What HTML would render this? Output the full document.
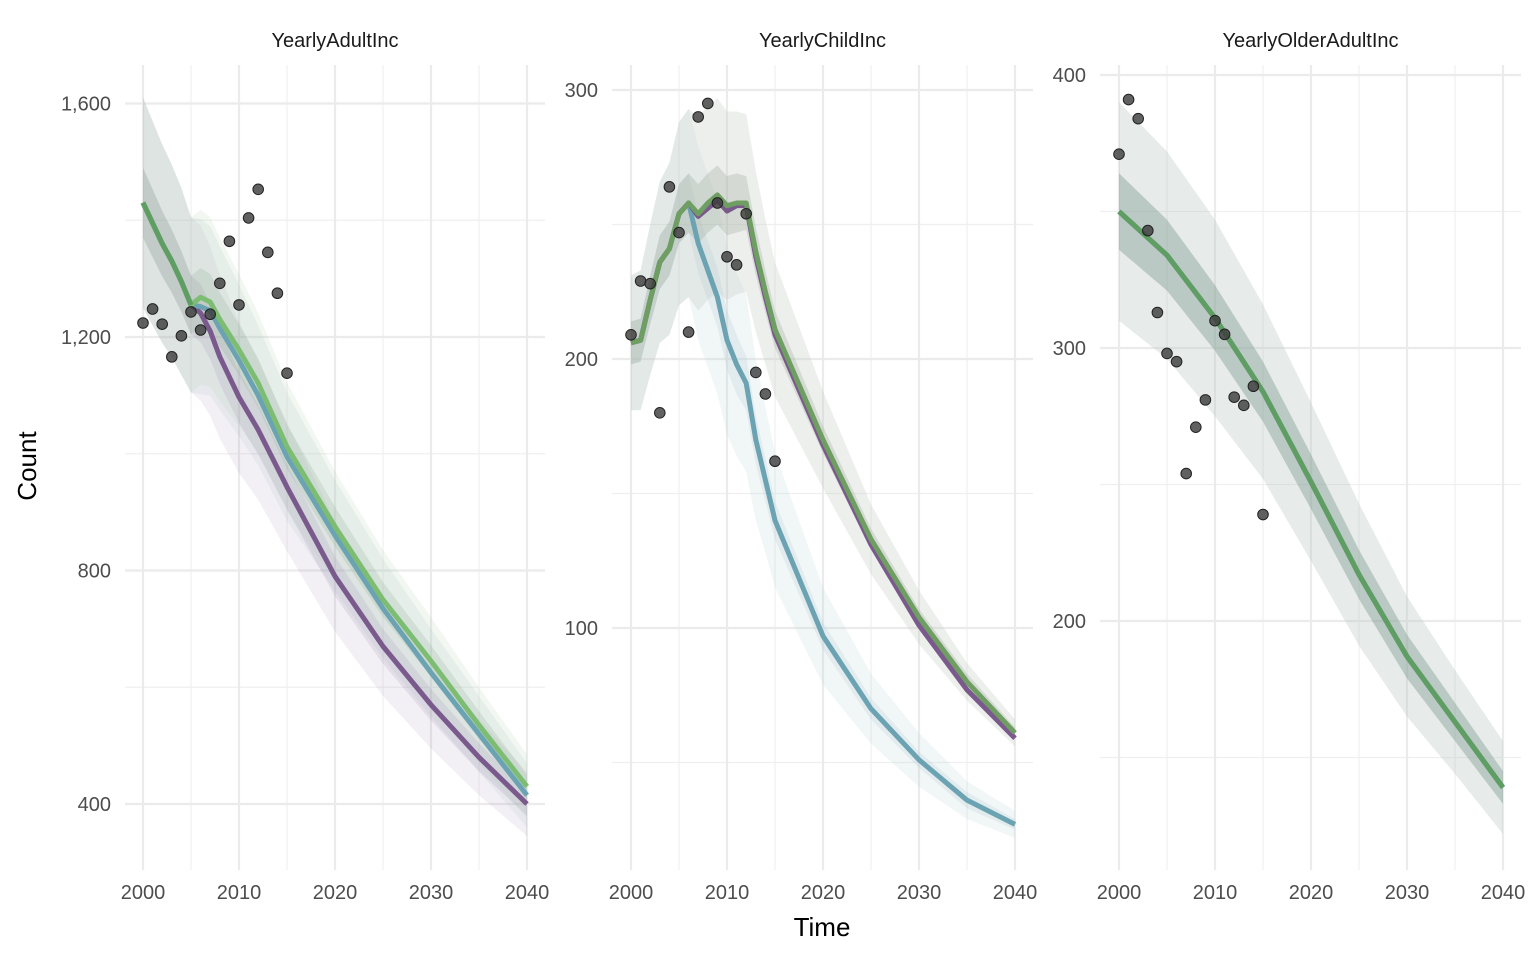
<!DOCTYPE html>
<html><head><meta charset="utf-8"><style>
body{margin:0;background:#fff;}
svg{display:block;font-family:"Liberation Sans",sans-serif;}
</style></head><body>
<svg id="chart" width="1536" height="960" viewBox="0 0 1536 960"></svg>
<script>
// ---------- data ----------
const panelTitles = ["YearlyAdultInc","YearlyChildInc","YearlyOlderAdultInc"];
const obsYears = [2000,2001,2002,2003,2004,2005,2006,2007,2008,2009,2010,2011,2012,2013,2014,2015];
const obsAdult = [1224,1248,1222,1166,1202,1243,1212,1239,1292,1364,1255,1404,1453,1345,1275,1138];
const obsChild = [209,229,228,180,264,247,210,290,295,258,238,235,254,195,187,162];
const obsOlder = [371,391,384,343,313,298,295,254,271,281,310,305,282,279,286,239];

const adultYears = [2000,2001,2002,2003,2004,2005,2006,2007,2008,2010,2012,2015,2020,2025,2030,2035,2040];
const adultGreen = [1430,1395,1360,1330,1295,1255,1268,1260,1230,1178,1121,1012,875,750,645,535,430];
const adultBlue = [1430,1395,1360,1330,1295,1255,1252,1245,1215,1160,1100,995,860,735,625,520,415];
const adultPurple = [1430,1395,1360,1330,1295,1255,1241,1210,1166,1097,1041,943,790,670,570,480,400];
const adultOuter = [180,175,170,165,160,150,150,145,140,130,120,110,95,85,75,65,55];
const adultInner = [60,58,56,54,52,50,50,48,46,44,42,38,34,30,27,24,20];

const childYears = [2000,2001,2002,2003,2004,2005,2006,2007,2008,2009,2010,2011,2012,2013,2014,2015,2020,2025,2030,2035,2040];
const childGreen = [206,207,222,236,241,254,258,254,258,261,257,258,258,240,225,211,170,133,104,80,61];
const childPurple = [206,207,222,236,241,254,258,253,256,259,255,257,257,238,223,209,168,131,101,77,59];
const childBlue = [206,207,222,236,241,254,258,243,233,223,207,198,191,170,155,140,97,70,51,36,27];
const childOuter = [25,26,28,30,32,34,35,36,36,36,35,34,33,30,27,25,18,13,10,7,5];
const childInner = [8,8,9,10,10,11,11,11,11,11,11,11,10,9,8,7,5,4,3,3,2];

const olderYears = [2000,2005,2010,2015,2020,2025,2030,2035,2040];
const olderLine = [350,334,311,284,251,217,187,163,139];
const olderOuter = [40,38,36,32,29,26,22,19,17];
const olderInner = [14,13,12,11,10,9,8,7,6];

const adultTicks = [400,800,1200,1600];
const adultTickLabels = ["400","800","1,200","1,600"];
const adultMinor = [600,1000,1400];
const childTicks = [100,200,300];
const childMinor = [50,150,250];
const olderTicks = [200,300,400];
const olderMinor = [150,250,350];
const xTicks = [2000,2010,2020,2030,2040];
const xMinor = [2005,2015,2025,2035];

// ---------- helpers ----------
const svg = document.getElementById('chart');
const NS = "http://www.w3.org/2000/svg";
function mk(tag, attrs, parent){
  const e = document.createElementNS(NS, tag);
  for (const k in attrs) e.setAttribute(k, attrs[k]);
  (parent||svg).appendChild(e);
  return e;
}
const TOP=65, BOT=870;
const panels = [
  {x0:125,x1:545,xs:143,xe:527, v0:1200,y0:337,ppu:233.5/400, ticks:adultTicks, labels:adultTickLabels, minor:adultMinor},
  {x0:612,x1:1033,xs:631,xe:1015, v0:200,y0:359,ppu:2.69, ticks:childTicks, labels:childTicks.map(String), minor:childMinor},
  {x0:1100,x1:1521,xs:1119,xe:1503, v0:300,y0:348,ppu:2.73, ticks:olderTicks, labels:olderTicks.map(String), minor:olderMinor}
];
panels.forEach(p=>{
  p.X = yr => p.xs + (yr-2000)*(p.xe-p.xs)/40;
  p.Y = v => p.y0 - (v-p.v0)*p.ppu;
});

function drawPanel(i){
  const p = panels[i];
  const g = mk('g',{});
  
  
  p.minor.forEach(v=>{
    const l = mk('line',{x1:p.x0,x2:p.x1,y1:p.Y(v),y2:p.Y(v),stroke:'#efefef','stroke-width':1.2},g);
    
    
  });
  xMinor.forEach(yr=>{
    const l = mk('line',{x1:p.X(yr),x2:p.X(yr),y1:TOP,y2:BOT,stroke:'#efefef','stroke-width':1.2},g);
    
    
  });
  p.ticks.forEach((v,k)=>{
    const l = mk('line',{x1:p.x0,x2:p.x1,y1:p.Y(v),y2:p.Y(v),stroke:'#ebebeb','stroke-width':2.2},g);
    
    
    const t = mk('text',{x:p.x0-14,y:p.Y(v)+7,'text-anchor':'end','font-size':20,fill:'#4d4d4d'},g);
    t.textContent = p.labels[k];
    
    
  });
  xTicks.forEach(yr=>{
    const l = mk('line',{x1:p.X(yr),x2:p.X(yr),y1:TOP,y2:BOT,stroke:'#ebebeb','stroke-width':2.2},g);
    
    
    const t = mk('text',{x:p.X(yr),y:899,'text-anchor':'middle','font-size':20,fill:'#4d4d4d'},g);
    t.textContent = yr;
    
    
  });
  const tt = mk('text',{x:(p.x0+p.x1)/2,y:47,'text-anchor':'middle','font-size':20,fill:'#1a1a1a'},g);
  tt.textContent = panelTitles[i];
  
  
  return g;
}
function ribbon(p,g,yrs,line,half,fill,op,name){
  let d='';
  yrs.forEach((yr,k)=>{d += (k?'L':'M')+p.X(yr)+','+p.Y(line[k]+half[k]);});
  for(let k=yrs.length-1;k>=0;k--){d += 'L'+p.X(yrs[k])+','+p.Y(line[k]-half[k]);}
  const e = mk('path',{d:d+'Z',fill:fill,'fill-opacity':op},g);
  
  
}
function line(p,g,yrs,vals,col,name){
  const pts = yrs.map((yr,k)=>p.X(yr)+','+p.Y(vals[k])).join(' ');
  const e = mk('polyline',{points:pts,fill:'none',stroke:col,'stroke-width':5,'stroke-linejoin':'round'},g);
  
  
}
function points(p,g,vals){
  obsYears.forEach((yr,k)=>{
    const c = mk('circle',{cx:p.X(yr),cy:p.Y(vals[k]),r:5.3,fill:'#3a3a3a','fill-opacity':0.8,stroke:'#222','stroke-width':1},g);
    
    
  });
}
const PURPLE='#7a5a8c', BLUE='#6ba3b3', GREEN='#5f9e62', LGREEN='#7dbd72';

// Panel 1
let g = drawPanel(0); let p = panels[0];
ribbon(p,g,adultYears,adultPurple,adultOuter,'#a898b8',0.14,'ribbon-purple-outer');
ribbon(p,g,adultYears,adultBlue,adultOuter,'#9fb8be',0.14,'ribbon-blue-outer');
ribbon(p,g,adultYears,adultGreen,adultOuter,'#b5d0b4',0.18,'ribbon-green-outer');
ribbon(p,g,adultYears,adultPurple,adultInner,'#9c8cae',0.18,'ribbon-purple-inner');
ribbon(p,g,adultYears,adultGreen,adultInner,'#8fae92',0.22,'ribbon-green-inner');
line(p,g,adultYears,adultPurple,PURPLE,'line-purple');
line(p,g,adultYears,adultBlue,BLUE,'line-blue');
line(p,g,adultYears,adultGreen,LGREEN,'line-green');
line(p,g,adultYears.slice(0,6),adultGreen.slice(0,6),GREEN,'line-green-shared');
points(p,g,obsAdult);

// Panel 2
g = drawPanel(1); p = panels[1];
ribbon(p,g,childYears,childBlue,childOuter,'#b8d0d8',0.2,'ribbon-blue-outer');
ribbon(p,g,childYears,childGreen,childOuter,'#c5cbc3',0.3,'ribbon-green-outer');
ribbon(p,g,childYears,childBlue,childInner,'#a8c4cc',0.2,'ribbon-blue-inner');
ribbon(p,g,childYears,childGreen,childInner,'#9aa898',0.3,'ribbon-green-inner');
line(p,g,childYears,childBlue,BLUE,'line-blue');
line(p,g,childYears,childPurple,PURPLE,'line-purple');
line(p,g,childYears,childGreen,'#6f9e62','line-green');
points(p,g,obsChild);

// Panel 3
g = drawPanel(2); p = panels[2];
ribbon(p,g,olderYears,olderLine,olderOuter,'#b9c6c3',0.35,'ribbon-outer');
ribbon(p,g,olderYears,olderLine,olderInner,'#7d9a8c',0.42,'ribbon-inner');
line(p,g,olderYears,olderLine,'#4f6f8a','line-blue');
line(p,g,olderYears,olderLine,GREEN,'line-green');
points(p,g,obsOlder);

// axis titles
let t = mk('text',{x:822,y:936,'text-anchor':'middle','font-size':26,fill:'#000'});
t.textContent='Time';


t = mk('text',{x:36,y:466,'text-anchor':'middle','font-size':26,fill:'#000',transform:'rotate(-90 36 466)'});
t.textContent='Count';


</script>
</body></html>
